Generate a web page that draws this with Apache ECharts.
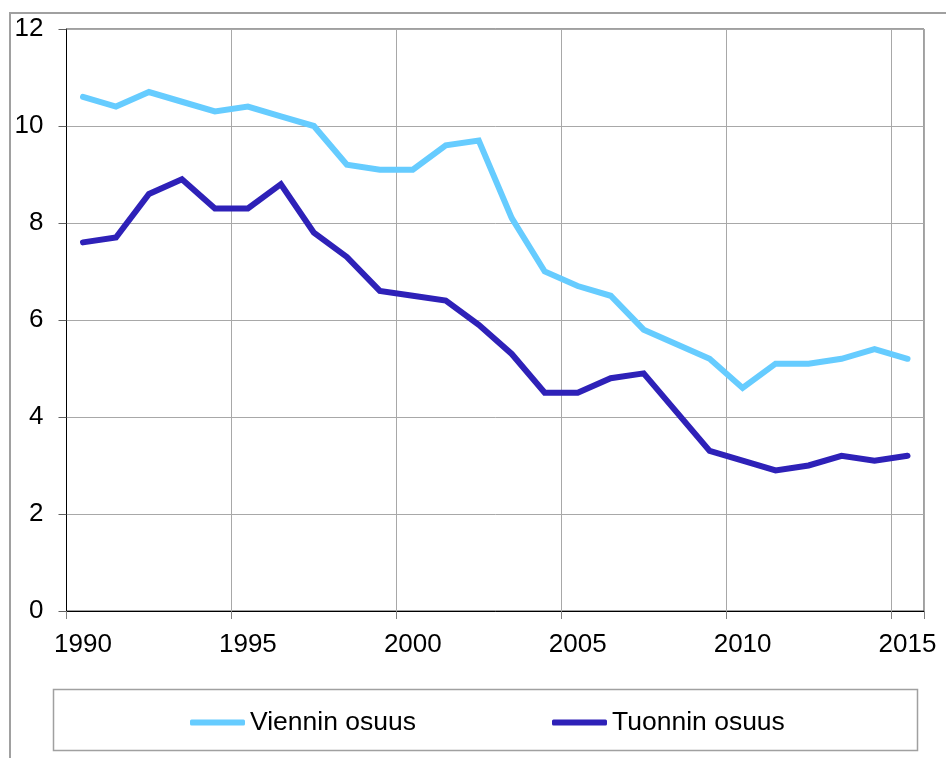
<!DOCTYPE html>
<html>
<head>
<meta charset="utf-8">
<script src="https://cdn.jsdelivr.net/npm/echarts@6/dist/echarts.min.js"></script>
<style>
  html, body { margin: 0; padding: 0; background: #fff; }
  #main { width: 946px; height: 758px; }
</style>
</head>
<body>
<div id="main"></div>
<script>
// years on the x axis (one category per year)
var years = [];
for (var y = 1990; y <= 2015; y++) years.push(String(y));

// share values
var viennin = [10.6, 10.4, 10.7, 10.5, 10.3, 10.4, 10.2, 10.0, 9.2, 9.1, 9.1, 9.6, 9.7,
               8.1, 7.0, 6.7, 6.5, 5.8, 5.5, 5.2, 4.6, 5.1, 5.1, 5.2, 5.4, 5.2];
var tuonnin = [7.6, 7.7, 8.6, 8.9, 8.3, 8.3, 8.8, 7.8, 7.3, 6.6, 6.5, 6.4, 5.9,
               5.3, 4.5, 4.5, 4.8, 4.9, 4.1, 3.3, 3.1, 2.9, 3.0, 3.2, 3.1, 3.2];

var seriesNames = ['Viennin osuus', 'Tuonnin osuus'];
var font = "'Liberation Sans', Arial, sans-serif";

var myChart = echarts.init(document.getElementById('main'));

var option = {
  animation: false,
  backgroundColor: '#fff',
  textStyle: { fontFamily: font },
  graphic: [
    // outer frame (cut off at right and bottom)
    {
      type: 'rect',
      shape: { x: 10, y: 13, width: 1000, height: 800 },
      style: { fill: 'none', stroke: '#a0a0a0', lineWidth: 2 },
      silent: true
    },
    // legend box
    {
      type: 'rect',
      shape: { x: 53.5, y: 689.5, width: 864, height: 61 },
      style: { fill: 'none', stroke: '#a0a0a0', lineWidth: 1.5 },
      silent: true
    }
  ],
  grid: {
    left: 66.5,
    right: 22,
    top: 29,
    bottom: 147,
    show: true,
    borderColor: '#404040',
    borderWidth: 1
  },
  legend: {
    data: seriesNames,
    left: 185,
    top: 704,
    icon: 'roundRect',
    itemWidth: 55,
    itemHeight: 6,
    itemGap: 136,
    textStyle: { fontSize: 26.5, color: '#000', fontFamily: font }
  },
  xAxis: {
    type: 'category',
    data: years,
    boundaryGap: true,
    axisLine: { lineStyle: { color: '#000', width: 1 } },
    axisTick: { show: true, interval: 4, length: 8, lineStyle: { color: '#808080' } },
    axisLabel: { interval: 4, margin: 21, fontSize: 26, color: '#000', fontFamily: font },
    splitLine: { show: true, interval: 4, lineStyle: { color: '#a8a8a8', width: 1 } }
  },
  yAxis: {
    type: 'value',
    min: 0,
    max: 12,
    interval: 2,
    axisLine: { show: true, lineStyle: { color: '#000', width: 1 } },
    axisTick: { show: true, length: 8, lineStyle: { color: '#606060' } },
    axisLabel: { margin: 23, fontSize: 26, color: '#000', fontFamily: font },
    splitLine: { show: true, lineStyle: { color: '#a8a8a8', width: 1 } }
  },
  series: [
    {
      name: seriesNames[0],
      type: 'line',
      data: viennin,
      showSymbol: false,
      symbol: 'none',
      color: '#66ccff',
      lineStyle: { width: 6, color: '#66ccff', cap: 'round', join: 'miter' }
    },
    {
      name: seriesNames[1],
      type: 'line',
      data: tuonnin,
      showSymbol: false,
      symbol: 'none',
      color: '#2e21b8',
      lineStyle: { width: 6, color: '#2e21b8', cap: 'round', join: 'miter' }
    }
  ]
};

myChart.setOption(option);
window.addEventListener('resize', myChart.resize);
</script>
</body>
</html>
